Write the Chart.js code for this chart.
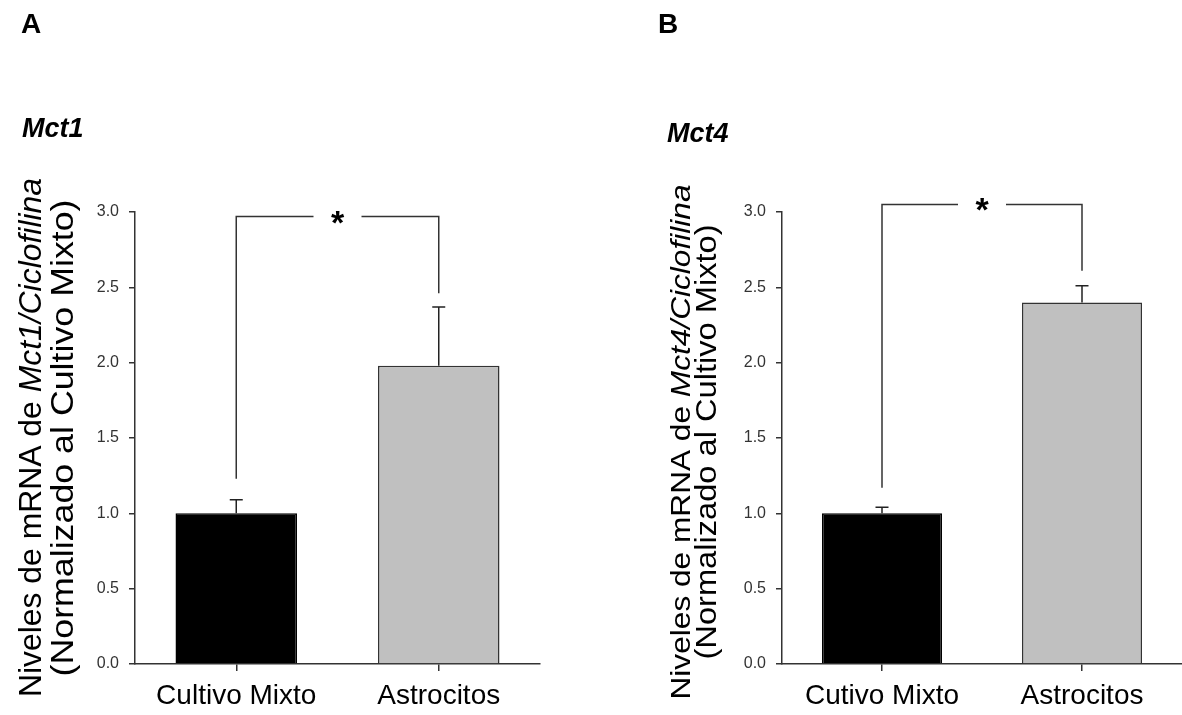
<!DOCTYPE html>
<html>
<head>
<meta charset="utf-8">
<script src="https://cdn.jsdelivr.net/npm/chart.js@4.4.0/dist/chart.umd.min.js"></script>
<style>
  html, body { margin: 0; padding: 0; background: #fff; overflow: hidden; }
  canvas { position: absolute; top: 0; }
</style>
</head>
<body>
<canvas id="chartA" width="591" height="715" style="left:0"></canvas>
<canvas id="chartB" width="591" height="715" style="left:591px"></canvas>
<script>
const categoriesA = ['Cultivo Mixto', 'Astrocitos'];
const categoriesB = ['Cutivo Mixto', 'Astrocitos'];
const mct1Values = [1.0, 1.98];
const mct1Errors = [0.09, 0.39];
const mct4Values = [1.0, 2.40];
const mct4Errors = [0.04, 0.11];
// significance bracket: top line, left leg end, right leg end
const mct1Bracket = [2.97, 1.23, 2.46];
const mct4Bracket = [3.05, 1.17, 2.61];
const yTicks = [0, 0.5, 1.0, 1.5, 2.0, 2.5, 3.0];
const barColors = ['#000000', '#c0c0c0'];

const FONT = "'Liberation Sans', Arial, sans-serif";

function fontOf(italic, bold, size) {
  return (italic ? 'italic ' : '') + (bold ? 'bold ' : '') + size + 'px ' + FONT;
}

// rotated axis title with mixed italic parts, stretched to a given length
function drawRotatedLine(ctx, parts, size, x, yMid, len) {
  ctx.save();
  let total = 0;
  parts.forEach(p => { ctx.font = fontOf(p[1], false, size); total += ctx.measureText(p[0]).width; });
  ctx.translate(x, yMid);
  ctx.rotate(-Math.PI / 2);
  ctx.scale(len / total, 1);
  ctx.fillStyle = '#000';
  ctx.textBaseline = 'alphabetic';
  ctx.textAlign = 'left';
  let cx = -total / 2;
  parts.forEach(p => {
    ctx.font = fontOf(p[1], false, size);
    ctx.fillText(p[0], cx, 0);
    cx += ctx.measureText(p[0]).width;
  });
  ctx.restore();
}

function textPlugin(t) {
  return {
    id: 'panelText',
    afterDraw(chart) {
      const ctx = chart.ctx;
      ctx.save();
      ctx.fillStyle = '#000';
      ctx.textBaseline = 'alphabetic';
      ctx.textAlign = 'left';
      ctx.font = fontOf(false, true, 28);
      ctx.fillText(t.letter, t.letterX, 33);
      ctx.font = fontOf(true, true, 27);
      ctx.fillText(t.gene, t.geneX, t.geneY);
      ctx.restore();
      t.lines.forEach(l => drawRotatedLine(ctx, l.parts, l.size, l.x, l.mid, l.len));
    }
  };
}

function errorBarPlugin(errors) {
  return {
    id: 'errorBars',
    afterDatasetsDraw(chart) {
      const ctx = chart.ctx;
      const y = chart.scales.y;
      const values = chart.data.datasets[0].data;
      ctx.save();
      ctx.strokeStyle = '#222';
      ctx.lineWidth = 1.5;
      chart.getDatasetMeta(0).data.forEach((bar, i) => {
        const top = y.getPixelForValue(values[i] + errors[i]);
        ctx.beginPath();
        ctx.moveTo(bar.x, bar.y);
        ctx.lineTo(bar.x, top);
        ctx.moveTo(bar.x - 6.5, top);
        ctx.lineTo(bar.x + 6.5, top);
        ctx.stroke();
      });
      ctx.restore();
    }
  };
}

function bracketPlugin(levels) {
  return {
    id: 'bracket',
    afterDraw(chart) {
      const ctx = chart.ctx;
      const { x, y } = chart.scales;
      const x0 = x.getPixelForValue(0), x1 = x.getPixelForValue(1);
      const mid = (x0 + x1) / 2;
      const top = y.getPixelForValue(levels[0]);
      ctx.save();
      ctx.strokeStyle = '#333';
      ctx.lineWidth = 1.5;
      ctx.beginPath();
      ctx.moveTo(x0, y.getPixelForValue(levels[1]));
      ctx.lineTo(x0, top);
      ctx.lineTo(mid - 24, top);
      ctx.moveTo(mid + 24, top);
      ctx.lineTo(x1, top);
      ctx.lineTo(x1, y.getPixelForValue(levels[2]));
      ctx.stroke();
      ctx.fillStyle = '#000';
      ctx.font = fontOf(false, true, 34);
      ctx.textAlign = 'center';
      ctx.textBaseline = 'alphabetic';
      ctx.fillText('*', mid, top + 17);
      ctx.restore();
    }
  };
}

function makeChart(id, labels, values, errors, bracket, yWidth, padRight, texts) {
  return new Chart(document.getElementById(id), {
    type: 'bar',
    data: {
      labels: labels,
      datasets: [{
        data: values,
        backgroundColor: barColors,
        borderColor: ['#000', '#333'],
        borderWidth: 1.5,
        barPercentage: 0.6,
        categoryPercentage: 1,
      }],
    },
    options: {
      responsive: false,
      animation: false,
      layout: { padding: { left: 0, right: padRight, top: 212, bottom: 0 } },
      plugins: { legend: { display: false }, tooltip: { enabled: false } },
      scales: {
        x: {
          grid: { offset: false, drawOnChartArea: false, tickLength: 7, color: '#333', lineWidth: 1.5 },
          border: { color: '#333', width: 1.5 },
          ticks: { font: { family: FONT, size: 28 }, color: '#000', padding: 8, maxRotation: 0, autoSkip: false },
          afterFit(s) { s.height = 51; },
        },
        y: {
          min: 0,
          max: 3,
          afterBuildTicks(s) { s.ticks = yTicks.map(v => ({ value: v })); },
          grid: { drawOnChartArea: false, tickLength: 6, color: '#333', lineWidth: 1.5 },
          border: { color: '#333', width: 1.5 },
          ticks: { font: { family: FONT, size: 16 }, color: '#333', padding: 10, callback: v => v.toFixed(1) },
          afterFit(s) { s.width = yWidth; },
        },
      },
    },
    plugins: [errorBarPlugin(errors), bracketPlugin(bracket), textPlugin(texts)],
  });
}

makeChart('chartA', categoriesA, mct1Values, mct1Errors, mct1Bracket, 135, 51, {
  letter: 'A', letterX: 21, gene: 'Mct1', geneX: 22, geneY: 137,
  lines: [
    { parts: [['Niveles de mRNA de ', false], ['Mct1/Ciclofilina', true]], size: 31, x: 41, mid: 437.5, len: 519 },
    { parts: [['(Normalizado al Cultivo Mixto)', false]], size: 32, x: 73, mid: 438, len: 477 },
  ],
});

makeChart('chartB', categoriesB, mct4Values, mct4Errors, mct4Bracket, 191, 0, {
  letter: 'B', letterX: 67, gene: 'Mct4', geneX: 76, geneY: 142,
  lines: [
    { parts: [['Niveles de mRNA de ', false], ['Mct4/Ciclofilina', true]], size: 27, x: 99, mid: 442, len: 515 },
    { parts: [['(Normalizado al Cultivo Mixto)', false]], size: 29, x: 125, mid: 442, len: 435 },
  ],
});
</script>
</body>
</html>
